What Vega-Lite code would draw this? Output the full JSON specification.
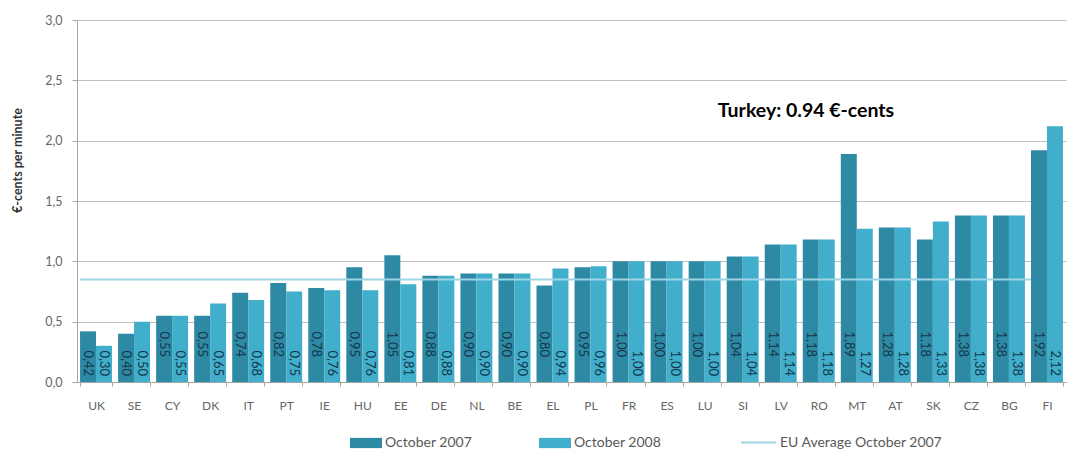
{
  "$schema": "https://vega.github.io/schema/vega-lite/v6.json",
  "width": 989,
  "height": 362,
  "autosize": "none",
  "padding": {"left": 77, "top": 20, "right": 7, "bottom": 68},
  "background": "white",
  "config": {
    "font": "Lato",
    "view": {"stroke": null},
    "locale": {"number": {"decimal": ",", "thousands": ".", "grouping": [3], "currency": ["", " €"]}},
    "axis": {"labelFont": "Lato", "labelColor": "#666666", "labelFontSize": 12}
  },
  "data": {
    "values": [
      {"country": "UK", "period": "October 2007", "value": 0.42},
      {"country": "UK", "period": "October 2008", "value": 0.30},
      {"country": "SE", "period": "October 2007", "value": 0.40},
      {"country": "SE", "period": "October 2008", "value": 0.50},
      {"country": "CY", "period": "October 2007", "value": 0.55},
      {"country": "CY", "period": "October 2008", "value": 0.55},
      {"country": "DK", "period": "October 2007", "value": 0.55},
      {"country": "DK", "period": "October 2008", "value": 0.65},
      {"country": "IT", "period": "October 2007", "value": 0.74},
      {"country": "IT", "period": "October 2008", "value": 0.68},
      {"country": "PT", "period": "October 2007", "value": 0.82},
      {"country": "PT", "period": "October 2008", "value": 0.75},
      {"country": "IE", "period": "October 2007", "value": 0.78},
      {"country": "IE", "period": "October 2008", "value": 0.76},
      {"country": "HU", "period": "October 2007", "value": 0.95},
      {"country": "HU", "period": "October 2008", "value": 0.76},
      {"country": "EE", "period": "October 2007", "value": 1.05},
      {"country": "EE", "period": "October 2008", "value": 0.81},
      {"country": "DE", "period": "October 2007", "value": 0.88},
      {"country": "DE", "period": "October 2008", "value": 0.88},
      {"country": "NL", "period": "October 2007", "value": 0.90},
      {"country": "NL", "period": "October 2008", "value": 0.90},
      {"country": "BE", "period": "October 2007", "value": 0.90},
      {"country": "BE", "period": "October 2008", "value": 0.90},
      {"country": "EL", "period": "October 2007", "value": 0.80},
      {"country": "EL", "period": "October 2008", "value": 0.94},
      {"country": "PL", "period": "October 2007", "value": 0.95},
      {"country": "PL", "period": "October 2008", "value": 0.96},
      {"country": "FR", "period": "October 2007", "value": 1.00},
      {"country": "FR", "period": "October 2008", "value": 1.00},
      {"country": "ES", "period": "October 2007", "value": 1.00},
      {"country": "ES", "period": "October 2008", "value": 1.00},
      {"country": "LU", "period": "October 2007", "value": 1.00},
      {"country": "LU", "period": "October 2008", "value": 1.00},
      {"country": "SI", "period": "October 2007", "value": 1.04},
      {"country": "SI", "period": "October 2008", "value": 1.04},
      {"country": "LV", "period": "October 2007", "value": 1.14},
      {"country": "LV", "period": "October 2008", "value": 1.14},
      {"country": "RO", "period": "October 2007", "value": 1.18},
      {"country": "RO", "period": "October 2008", "value": 1.18},
      {"country": "MT", "period": "October 2007", "value": 1.89},
      {"country": "MT", "period": "October 2008", "value": 1.27},
      {"country": "AT", "period": "October 2007", "value": 1.28},
      {"country": "AT", "period": "October 2008", "value": 1.28},
      {"country": "SK", "period": "October 2007", "value": 1.18},
      {"country": "SK", "period": "October 2008", "value": 1.33},
      {"country": "CZ", "period": "October 2007", "value": 1.38},
      {"country": "CZ", "period": "October 2008", "value": 1.38},
      {"country": "BG", "period": "October 2007", "value": 1.38},
      {"country": "BG", "period": "October 2008", "value": 1.38},
      {"country": "FI", "period": "October 2007", "value": 1.92},
      {"country": "FI", "period": "October 2008", "value": 2.12}
    ]
  },
  "encoding": {
    "x": {
      "field": "country", "type": "nominal", "sort": null,
      "scale": {"paddingInner": 0.16, "paddingOuter": 0.08},
      "axis": {
        "title": null, "labelAngle": 0, "tickBand": "extent", "tickSize": 4,
        "tickColor": "#c9a46a", "domainColor": "#a6a6a6", "labelPadding": 14,
        "labelFontSize": 12, "labelColor": "#666666"
      }
    },
    "xOffset": {"field": "period", "type": "nominal", "scale": {"domain": ["October 2007", "October 2008"]}}
  },
  "layer": [
    {
      "mark": {"type": "bar"},
      "encoding": {
        "y": {
          "field": "value", "type": "quantitative",
          "scale": {"domain": [0, 3], "nice": false},
          "axis": {
            "title": "€-cents per minute", "titleFontSize": 12.5, "titleFontWeight": "bold",
            "titleColor": "#333333", "titleX": -53, "titleY": 140, "titleBaseline": "bottom", "titleAngle": -90,
            "values": [0, 0.5, 1, 1.5, 2, 2.5, 3],
            "format": ".1f", "gridColor": "#bfbfbf", "domainColor": "#a6a6a6",
            "tickColor": "#a6a6a6", "tickSize": 5, "labelPadding": 10, "labelFontSize": 12.5
          }
        },
        "fill": {
          "field": "period", "type": "nominal",
          "scale": {"domain": ["October 2007", "October 2008"], "range": ["#2e8aa4", "#41aecb"]},
          "legend": {
            "title": null, "orient": "none", "legendX": 273, "legendY": 407, "direction": "horizontal",
            "symbolType": "M-1,-0.32H1V0.32H-1Z", "symbolSize": 1024, "symbolStrokeWidth": 0,
            "labelFontSize": 14, "labelColor": "#595959", "labelOffset": 3, "columnPadding": 66
          }
        }
      }
    },
    {
      "transform": [{"filter": "datum.period === 'October 2008' || datum.value < 0.5"}],
      "mark": {"type": "text", "angle": 90, "align": "right", "baseline": "middle", "dx": -6, "fontSize": 13, "color": "#15374a"},
      "encoding": {
        "y": {"datum": 0, "type": "quantitative"},
        "text": {"field": "value", "type": "quantitative", "format": ".2f"}
      }
    },
    {
      "transform": [{"filter": "datum.period === 'October 2007' && datum.value >= 0.5"}],
      "mark": {"type": "text", "angle": 90, "align": "right", "baseline": "middle", "dx": -25, "fontSize": 13, "color": "#15374a"},
      "encoding": {
        "y": {"datum": 0, "type": "quantitative"},
        "text": {"field": "value", "type": "quantitative", "format": ".2f"}
      }
    },
    {
      "transform": [{"filter": "datum.period === 'October 2007'"}],
      "mark": {"type": "line", "strokeWidth": 2},
      "encoding": {
        "xOffset": {"value": 0},
        "y": {"datum": 0.85, "type": "quantitative"},
        "stroke": {
          "datum": "EU Average October 2007",
          "scale": {"range": ["#9fd4e4"]},
          "legend": {
            "title": null, "orient": "none", "legendX": 663, "legendY": 404,
            "symbolType": "stroke", "symbolSize": 1225, "symbolStrokeWidth": 2,
            "labelFontSize": 14, "labelColor": "#595959", "labelOffset": 3, "labelLimit": 300
          }
        }
      }
    },
    {
      "data": {"values": [{"note": "Turkey: 0.94 €-cents"}]},
      "mark": {"type": "text", "align": "left", "baseline": "middle", "fontSize": 19.5, "fontWeight": "bold", "color": "#000000", "dx": -47},
      "encoding": {
        "x": {"datum": "LV"},
        "xOffset": {"value": 0},
        "y": {"datum": 2.25, "type": "quantitative"},
        "text": {"field": "note"}
      }
    }
  ]
}
